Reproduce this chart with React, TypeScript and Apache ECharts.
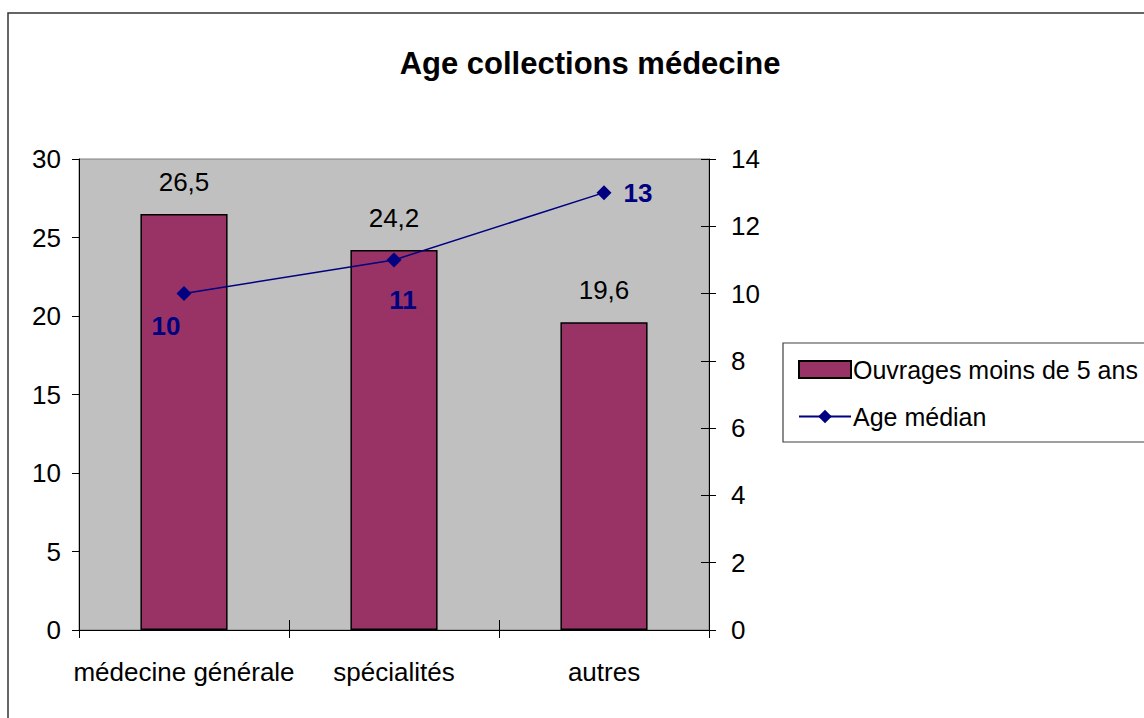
import React, { useEffect, useRef } from "react";
import * as echarts from "echarts";

const categories = ["médecine générale", "spécialités", "autres"];
const barValues = [26.5, 24.2, 19.6];
const lineValues = [10, 11, 13];
const leftTicks = { min: 0, max: 30, interval: 5 };
const rightTicks = { min: 0, max: 14, interval: 2 };
const barName = "Ouvrages moins de 5 ans";
const lineName = "Age médian";
const title = "Age collections médecine";

const lineLabelOffsets = [
  [-18, 32],
  [9, 40],
  [34, 0],
];

const FONT = "'Liberation Sans', Arial, sans-serif";
const FS = 26;

export default function App() {
  const ref = useRef<HTMLDivElement>(null);
  useEffect(() => {
    const chart = echarts.init(ref.current!, null, { renderer: "svg" });
    chart.setOption({
      animation: false,
      backgroundColor: "#ffffff",
      textStyle: { fontFamily: FONT },
      title: {
        text: title,
        left: 585,
        textAlign: "center",
        top: 43,
        textStyle: { fontFamily: FONT, fontSize: 31, fontWeight: "bold", color: "#000" },
      },
      grid: {
        left: 79,
        top: 159,
        width: 630,
        height: 471,
        show: true,
        backgroundColor: "#c0c0c0",
        borderColor: "#808080",
        borderWidth: 1,
      },
      legend: {
        orient: "vertical",
        left: 793,
        top: 352,
        itemWidth: 52,
        itemHeight: 17,
        itemGap: 22,
        textStyle: { fontFamily: FONT, fontSize: 25, color: "#000", padding: [0, 0, 0, -3] },
        data: [{ name: barName, icon: "rect" }, { name: lineName }],
      },
      graphic: [
        {
          type: "rect",
          shape: { x: 8, y: 13, width: 1300, height: 900 },
          style: { fill: "none", stroke: "#333", lineWidth: 1.5 },
          silent: true,
        },
        {
          type: "rect",
          shape: { x: 783, y: 343, width: 500, height: 99 },
          style: { fill: "none", stroke: "#404040", lineWidth: 1.2 },
          silent: true,
        },
      ],
      xAxis: [
        {
          type: "category",
          data: categories,
          boundaryGap: true,
          axisLine: { show: true, lineStyle: { color: "#000", width: 1 } },
          axisTick: { show: true, length: 8, lineStyle: { color: "#000" } },
          axisLabel: { fontFamily: FONT, fontSize: FS, color: "#000", margin: 29, interval: 0 },
        },
        {
          type: "category",
          data: categories,
          position: "bottom",
          boundaryGap: true,
          axisLine: { show: false },
          axisTick: { show: true, inside: true, length: 10, lineStyle: { color: "#000" } },
          axisLabel: { show: false },
        },
      ],
      yAxis: [
        {
          type: "value",
          ...leftTicks,
          position: "left",
          splitLine: { show: false },
          axisLine: { show: true, lineStyle: { color: "#000" } },
          axisTick: { show: true, length: 7, lineStyle: { color: "#000" } },
          axisLabel: { fontFamily: FONT, fontSize: FS, color: "#000", margin: 18 },
        },
        {
          type: "value",
          ...rightTicks,
          position: "right",
          splitLine: { show: false },
          axisLine: { show: true, lineStyle: { color: "#000" } },
          axisTick: { show: true, length: 7, lineStyle: { color: "#000" } },
          axisLabel: { fontFamily: FONT, fontSize: FS, color: "#000", margin: 22 },
        },
        {
          type: "value",
          ...rightTicks,
          position: "right",
          splitLine: { show: false },
          axisLine: { show: false },
          axisTick: { show: true, inside: true, length: 8, lineStyle: { color: "#000" } },
          axisLabel: { show: false },
        },
      ],
      series: [
        {
          name: barName,
          type: "bar",
          data: barValues,
          xAxisIndex: 0,
          yAxisIndex: 0,
          barWidth: "41.5%",
          itemStyle: { color: "#993366", borderColor: "#000", borderWidth: 1.5 },
          label: {
            show: true,
            position: "top",
            distance: 19,
            fontFamily: FONT,
            fontSize: FS,
            color: "#000",
            formatter: (p: any) => String(p.value).replace(".", ","),
          },
        },
        {
          name: lineName,
          type: "line",
          xAxisIndex: 0,
          yAxisIndex: 1,
          data: lineValues.map((v, i) => ({
            value: v,
            label: { offset: lineLabelOffsets[i] },
          })),
          symbol: "diamond",
          symbolSize: 15,
          lineStyle: { color: "#000080", width: 1.5 },
          itemStyle: { color: "#000080" },
          label: {
            show: true,
            position: "inside",
            fontFamily: FONT,
            fontSize: FS,
            fontWeight: "bold",
            color: "#000080",
          },
        },
      ],
    });
    return () => chart.dispose();
  }, []);
  return (
    <div
      ref={ref}
      style={{ position: "absolute", left: 0, top: 0, width: 1144, height: 718 }}
    />
  );
}
